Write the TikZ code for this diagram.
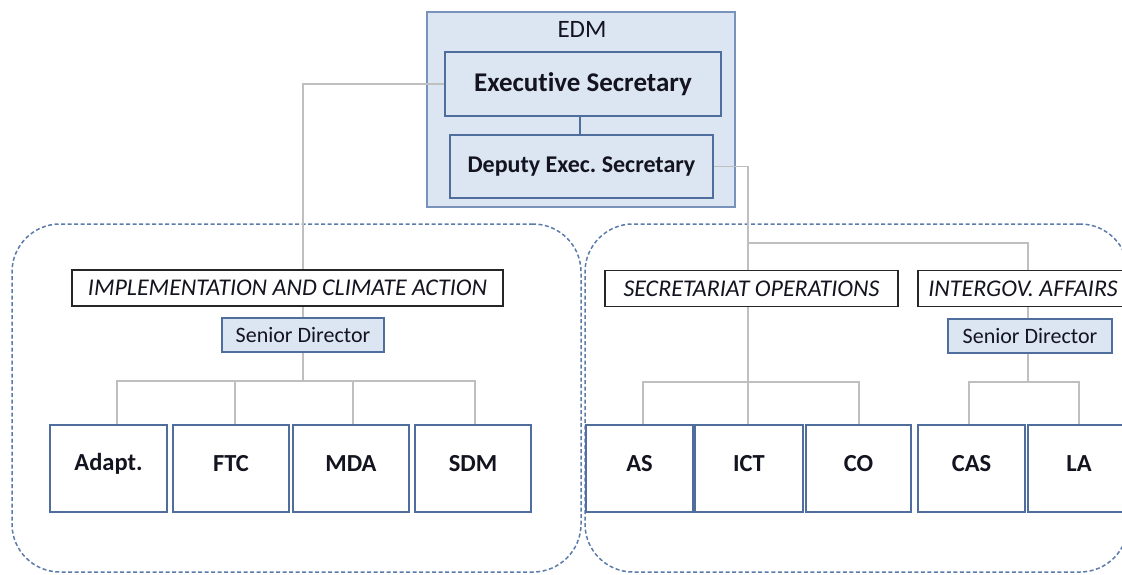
\documentclass[tikz,border=0pt]{standalone}
\usepackage{fontspec}
\setmainfont{Carlito}[Ligatures=NoCommon]
\pgfdeclarelayer{bg}
\pgfdeclarelayer{lines}
\pgfsetlayers{bg,lines,main}
\definecolor{edmfill}{HTML}{DCE6F2}
\definecolor{edmline}{HTML}{7892BC}
\definecolor{boxline}{HTML}{4F6E9E}
\definecolor{connc}{HTML}{BFBFBF}
\definecolor{dashc}{HTML}{5B7BAA}
\definecolor{txt}{HTML}{141420}
\frenchspacing
\begin{document}
\begin{tikzpicture}[x=1pt,y=-1pt,
  every node/.style={text=txt},
  edmbox/.style={draw=edmline, line width=2pt, fill=edmfill, minimum width=308pt, minimum height=195pt, inner sep=0pt},
  execbox/.style={draw=boxline, line width=1.6pt, fill=edmfill, inner sep=0pt},
  divbox/.style={draw=black!85, line width=1.5pt, fill=white, inner sep=0pt, minimum height=36pt, font=\fontsize{24}{28}\selectfont\itshape},
  sdbox/.style={draw=boxline, line width=1.5pt, fill=edmfill, inner sep=0pt, minimum height=34pt, font=\fontsize{22}{26}\selectfont},
  unitbox/.style={draw=boxline, line width=2pt, fill=white, minimum height=87pt, inner sep=0pt},
  unittxt/.style={font=\fontsize{24.5}{28}\selectfont\bfseries, inner sep=0pt},
  region/.style={draw=dashc, line width=1.5pt, dash pattern=on 4pt off 2.5pt, rounded corners=48pt, inner sep=0pt},
  connector/.style={draw=connc, line width=1.5pt},
]
\useasboundingbox (0,0) rectangle (1122,574);

% containers
\begin{pgfonlayer}{bg}
\node[region, minimum width=569pt, minimum height=348pt] (leftgrp) at (296.5,398) {};
\node[region, minimum width=543pt, minimum height=348pt] (rightgrp) at (856.5,398) {};
\node[edmbox] (edm) at (581,109.5) {};
\end{pgfonlayer}

\node[font=\fontsize{25}{29}\selectfont] (edmlabel) at (582,29) {EDM};
\node[execbox, minimum width=276pt, minimum height=64pt, font=\fontsize{27}{31}\selectfont\bfseries] (exec) at (583,84) {Executive Secretary};
\node[execbox, minimum width=263pt, minimum height=63pt, font=\fontsize{24}{28}\selectfont\bfseries] (deputy) at (581.5,166.5) {Deputy Exec. Secretary};

% divisions
\node[divbox, minimum width=431pt] (impl) at (287.5,288) {IMPLEMENTATION AND CLIMATE ACTION};
\node[divbox, minimum width=293pt] (secops) at (751.5,288.5) {SECRETARIAT OPERATIONS};
\node[divbox, minimum width=210pt] (intergov) at (1023,288.5) {INTERGOV. AFFAIRS};

\node[sdbox, minimum width=162pt] (sdl) at (303,335) {Senior Director};
\node[sdbox, minimum width=164pt] (sdr) at (1030,336) {Senior Director};

% units
\node[unitbox, minimum width=117pt] (adapt) at (108.5,468.5) {};
\node[unitbox, minimum width=116pt] (ftc) at (231,468.5) {};
\node[unitbox, minimum width=116pt] (mda) at (351,468.5) {};
\node[unitbox, minimum width=116pt] (sdm) at (473,468.5) {};
\node[unitbox, minimum width=107pt] (as) at (639.5,468.5) {};
\node[unitbox, minimum width=108pt] (ict) at (749,468.5) {};
\node[unitbox, minimum width=105pt] (co) at (858.5,468.5) {};
\node[unitbox, minimum width=107pt] (cas) at (971.5,468.5) {};
\node[unitbox, minimum width=102pt] (la) at (1079,468.5) {};

\node[unittxt] (tadapt) at ([yshift=5pt]adapt.center) {Adapt.};
\node[unittxt] (tftc) at ([yshift=5pt]ftc.center) {FTC};
\node[unittxt] (tmda) at ([yshift=5pt]mda.center) {MDA};
\node[unittxt] (tsdm) at ([yshift=5pt]sdm.center) {SDM};
\node[unittxt] (tas) at ([yshift=5pt]as.center) {AS};
\node[unittxt] (tict) at ([yshift=5pt]ict.center) {ICT};
\node[unittxt] (tco) at ([yshift=5pt]co.center) {CO};
\node[unittxt] (tcas) at ([yshift=5pt]cas.center) {CAS};
\node[unittxt] (tla) at ([yshift=5pt]la.center) {LA};

% helper coordinates
\coordinate (lx) at (303,0);
\coordinate (lh) at (0,381);
\coordinate (c1) at (117,0);
\coordinate (c2) at (235,0);
\coordinate (c3) at (353,0);
\coordinate (c4) at (475,0);
\coordinate (rx) at (748,0);
\coordinate (rh) at (0,243);
\coordinate (ix) at (1028,0);
\coordinate (bh) at (0,382);
\coordinate (d1) at (643,0);
\coordinate (d3) at (859,0);
\coordinate (e1) at (969,0);
\coordinate (e2) at (1079,0);
\coordinate (ex) at (580,0);

\begin{pgfonlayer}{lines}
\draw[draw=boxline, line width=1.5pt] (exec.south -| ex) -- (deputy.north -| ex);
% left branch
\draw[connector] (exec.west) -| (impl.north -| lx);
\draw[connector] (impl.south -| lx) -- (sdl.north -| lx);
\draw[connector] (sdl.south -| lx) -- (lx |- lh);
\draw[connector] (adapt.north -| c1) -- (c1 |- lh) -- (c4 |- lh) -- (sdm.north -| c4);
\draw[connector] (ftc.north -| c2) -- (c2 |- lh);
\draw[connector] (mda.north -| c3) -- (c3 |- lh);
% right branch
\draw[connector] (deputy.east) -| (ict.north -| rx);
\draw[connector] (rx |- rh) -| (intergov.north -| ix);
\draw[connector] (intergov.south -| ix) -- (sdr.north -| ix);
\draw[connector] (sdr.south -| ix) -- (ix |- bh);
\draw[connector] (as.north -| d1) -- (d1 |- bh) -- (d3 |- bh) -- (co.north -| d3);
\draw[connector] (cas.north -| e1) -- (e1 |- bh) -- (e2 |- bh) -- (la.north -| e2);
\end{pgfonlayer}
\end{tikzpicture}
\end{document}
